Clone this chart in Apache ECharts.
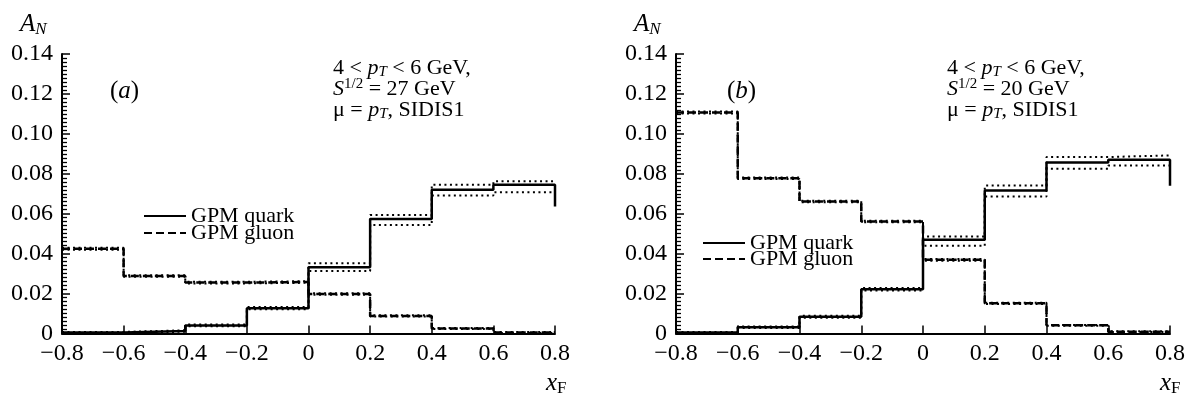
<!DOCTYPE html>
<html>
<head>
<meta charset="utf-8">
<script src="https://cdn.jsdelivr.net/npm/echarts@6/dist/echarts.min.js"></script>
<style>
  html, body { margin: 0; padding: 0; background: #fff; }
  #chart { width: 1191px; height: 398px; }
</style>
</head>
<body>
<div id="chart"></div>
<script>
  // bin edges of x_F
  var xEdges = [-0.8, -0.6, -0.4, -0.2, 0, 0.2, 0.4, 0.6, 0.8]

  // panel (a), sqrt(S) = 27 GeV
  var quarkA = [0.0005, 0.0012, 0.0040, 0.0127, 0.0332, 0.0573, 0.0720, 0.0745]
  var quarkAUp = [0.0008, 0.0016, 0.0045, 0.0133, 0.0352, 0.0594, 0.0745, 0.0762]
  var quarkALo = [0.0003, 0.0009, 0.0036, 0.0121, 0.0313, 0.0543, 0.0691, 0.0708]
  var quarkAEnd = 0.0636
  var gluonA = [0.0424, 0.0288, 0.0255, 0.0258, 0.0198, 0.0088, 0.0025, 0.0005]
  var gluonAUp = [0.0429, 0.0292, 0.0259, 0.0262, 0.0202, 0.0091, 0.0027, 0.0007]
  var gluonALo = [0.0419, 0.0284, 0.0251, 0.0254, 0.0194, 0.0085, 0.0023, 0.0003]

  // panel (b), sqrt(S) = 20 GeV
  var quarkB = [0.0005, 0.0031, 0.0084, 0.0222, 0.0469, 0.0716, 0.0857, 0.0870]
  var quarkBUp = [0.0008, 0.0035, 0.0089, 0.0228, 0.0486, 0.0741, 0.0884, 0.0892]
  var quarkBLo = [0.0003, 0.0027, 0.0079, 0.0216, 0.0439, 0.0686, 0.0825, 0.0842]
  var quarkBEnd = 0.0740
  var gluonB = [0.1107, 0.0778, 0.0661, 0.0561, 0.0369, 0.0151, 0.0041, 0.0009]
  var gluonBUp = [0.1112, 0.0782, 0.0665, 0.0565, 0.0373, 0.0154, 0.0043, 0.0011]
  var gluonBLo = [0.1102, 0.0774, 0.0657, 0.0557, 0.0365, 0.0148, 0.0039, 0.0007]

  var FONT = 'Liberation Serif'

  // histogram -> step polyline points
  function steps (vals, endVal) {
    var pts = []
    for (var i = 0; i < vals.length; i++) {
      pts.push([xEdges[i], vals[i]])
      pts.push([xEdges[i + 1], vals[i]])
    }
    if (endVal !== undefined) pts.push([xEdges[xEdges.length - 1], endVal])
    return pts
  }

  function line (name, idx, data, kind) {
    var ls = { color: '#000', width: 2.5, type: 'solid' }
    if (kind === 'dash') ls = { color: '#000', width: 2.5, type: [8, 4] }
    if (kind === 'dot') ls = { color: '#000', width: 2, type: [2, 3.5] }
    return {
      name: name,
      type: 'line',
      xAxisIndex: idx,
      yAxisIndex: idx,
      data: data,
      symbol: 'none',
      itemStyle: { color: '#000' },
      lineStyle: ls,
      z: kind === 'solid' ? 5 : 3,
      silent: true
    }
  }

  function yAxis (idx) {
    return {
      gridIndex: idx,
      type: 'value',
      min: 0,
      max: 0.14,
      interval: 0.02,
      axisLine: { show: true, onZero: false, lineStyle: { color: '#000', width: 2 } },
      axisTick: { show: true, inside: true, length: 8, lineStyle: { color: '#000', width: 1.5 } },
      minorTick: { show: true, splitNumber: 10, length: 5, lineStyle: { color: '#000', width: 1.3 } },
      splitLine: { show: false },
      axisLabel: {
        color: '#000', fontFamily: FONT, fontSize: 24, margin: 9,
        formatter: function (v) { return Math.abs(v) < 1e-9 ? '0' : v.toFixed(2) }
      }
    }
  }

  function xAxis (idx) {
    return {
      gridIndex: idx,
      type: 'value',
      min: -0.8,
      max: 0.8,
      interval: 0.2,
      axisLine: { show: true, onZero: false, lineStyle: { color: '#000', width: 2 } },
      axisTick: { show: true, inside: true, length: 8, lineStyle: { color: '#000', width: 1.5 } },
      splitLine: { show: false },
      axisLabel: {
        color: '#000', fontFamily: FONT, fontSize: 24, margin: 8,
        formatter: function (v) {
          if (Math.abs(v) < 1e-9) return '0'
          return v < 0 ? '\u2212' + Math.abs(v).toFixed(1) : v.toFixed(1)
        }
      }
    }
  }

  var richBase = {
    n: { fontFamily: FONT, fontSize: 22, color: '#000' },
    i: { fontFamily: FONT, fontSize: 22, fontStyle: 'italic', color: '#000' },
    sub: { fontFamily: FONT, fontSize: 15, fontStyle: 'italic', color: '#000', padding: [9, 0, 0, 0] },
    sup: { fontFamily: FONT, fontSize: 15, color: '#000', padding: [0, 0, 9, 0] }
  }

  function txt (x, y, text, rich) {
    return {
      type: 'text', x: x, y: y, silent: true,
      style: { text: text, rich: rich || richBase, verticalAlign: 'middle', align: 'left' }
    }
  }

  var bigRich = {
    n: { fontFamily: FONT, fontSize: 25, color: '#000' },
    i: { fontFamily: FONT, fontSize: 25, fontStyle: 'italic', color: '#000' },
    ax: { fontFamily: FONT, fontSize: 25, fontStyle: 'italic', color: '#000' },
    sub: { fontFamily: FONT, fontSize: 17, fontStyle: 'italic', color: '#000', padding: [12, 0, 0, 0] },
    subn: { fontFamily: FONT, fontSize: 17, color: '#000', padding: [12, 0, 0, 0] }
  }

  function panelText (x0, sqrtS, label, labelX) {
    return [
      txt(x0 - 42, 24, '{ax|A}{sub|N}', bigRich),
      txt(x0 + 484, 383, '{ax|x}{subn|F}', bigRich),
      txt(labelX, 91, '{n|(}{i|' + label + '}{n|)}', bigRich),
      txt(x0 + 271, 68, '{n|4 < }{i|p}{sub|T}{n| < 6 GeV,}'),
      txt(x0 + 271, 89, '{i|S}{sup|1/2}{n| = ' + sqrtS + ' GeV}'),
      txt(x0 + 271, 110, '{n|\u03bc = }{i|p}{sub|T}{n|, SIDIS1}')
    ]
  }

  // one legend row per entry so the rows can sit tighter than the text height
  function legend (left, centerY, name) {
    return {
      orient: 'vertical',
      left: left,
      top: centerY - 11,
      itemWidth: 42,
      itemHeight: 12,
      padding: 0,
      selectedMode: false,
      itemStyle: { opacity: 0 },
      data: [name],
      textStyle: { fontFamily: FONT, fontSize: 22, color: '#000', lineHeight: 22 }
    }
  }

  var chart = echarts.init(document.getElementById('chart'))
  chart.setOption({
    animation: false,
    backgroundColor: '#fff',
    grid: [
      { left: 62, top: 54, width: 493, height: 279.5 },
      { left: 676, top: 54, width: 494, height: 279.5 }
    ],
    xAxis: [xAxis(0), xAxis(1)],
    yAxis: [yAxis(0), yAxis(1)],
    legend: [
      legend(143, 216, 'GPM quark'), legend(143, 233, 'GPM gluon'),
      legend(702, 243, 'GPM quark'), legend(702, 259, 'GPM gluon')
    ],
    graphic: panelText(62, 27, 'a', 110).concat(panelText(676, 20, 'b', 727)),
    series: [
      line('quark band a up', 0, steps(quarkAUp), 'dot'),
      line('quark band a lo', 0, steps(quarkALo), 'dot'),
      line('gluon band a up', 0, steps(gluonAUp), 'dot'),
      line('gluon band a lo', 0, steps(gluonALo), 'dot'),
      line('GPM gluon', 0, steps(gluonA), 'dash'),
      line('GPM quark', 0, steps(quarkA, quarkAEnd), 'solid'),
      line('quark band b up', 1, steps(quarkBUp), 'dot'),
      line('quark band b lo', 1, steps(quarkBLo), 'dot'),
      line('gluon band b up', 1, steps(gluonBUp), 'dot'),
      line('gluon band b lo', 1, steps(gluonBLo), 'dot'),
      line('GPM gluon', 1, steps(gluonB), 'dash'),
      line('GPM quark', 1, steps(quarkB, quarkBEnd), 'solid')
    ]
  })
</script>
</body>
</html>
